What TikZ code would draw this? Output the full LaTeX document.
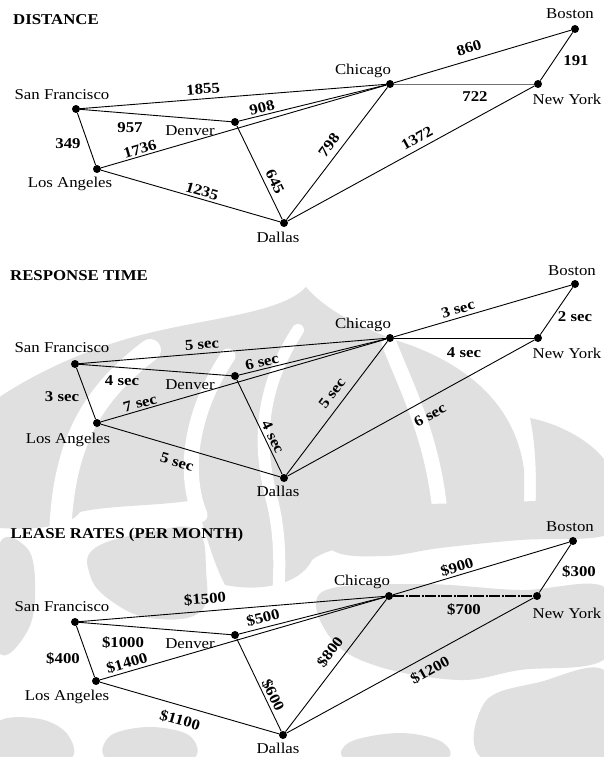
\documentclass[tikz,border=0pt]{standalone}
\usepackage{fontspec}
\setmainfont{Liberation Serif}[FakeStretch=1.12]
\begin{document}
\begin{tikzpicture}[x=1pt,y=-1pt,
  txt/.style={font=\fontsize{15}{18}\selectfont, inner sep=0pt},
  city/.style={txt},
  lbl/.style={txt, font=\fontsize{15}{18}\selectfont\bfseries},
  ttl/.style={txt, font=\fontsize{15}{18}\selectfont\bfseries},
  dot/.style={circle, fill=black, inner sep=0pt, minimum size=8pt},
  link/.style={line width=0.9pt},
  thinlink/.style={line width=0.5pt, black!55},
  dashlink/.style={line width=1.2pt, dash pattern=on 11pt off 1.5pt on 2pt off 1.5pt},
  gap/.style={white, line width=#1, line cap=round},
]
\colorlet{emblem}{black!12}
\useasboundingbox (0,0) rectangle (604,757);
\fill[white] (0,0) rectangle (604,757);

% faint emblem in the background
\begin{scope}
  \clip (0,280) rectangle (604,757);
  % dome and the bands flowing down from it
  \fill[emblem] (306,287) .. controls (280,315) and (200,318) .. (130,338)
     .. controls (70,355) and (25,380) .. (-2,398)
     -- (-2,528) .. controls (35,530) and (70,527) .. (80,512)
     .. controls (110,505) and (160,506) .. (195,500)
     .. controls (205,530) and (212,560) .. (225,585)
     .. controls (260,592) and (300,585) .. (312,560)
     .. controls (330,545) and (380,540) .. (440,540)
     .. controls (480,540) and (515,540) .. (524,530)
     -- (524,470) .. controls (515,400) and (460,360) .. (395,340)
     .. controls (370,330) and (330,315) .. (306,287) -- cycle;
  \draw[gap=22pt] (150,350) .. controls (95,392) and (62,440) .. (60,540);
  \draw[gap=15pt] (228,356) .. controls (192,410) and (182,470) .. (200,515);
  \draw[gap=12pt] (298,330) .. controls (262,385) and (256,440) .. (272,500)
     .. controls (282,540) and (280,580) .. (276,620);
  \draw[gap=15pt] (389,343) .. controls (408,392) and (440,450) .. (442,545);
  \fill[emblem] (530,418) .. controls (565,425) and (595,445) .. (606,462)
     -- (606,530) -- (534,530) .. controls (537,495) and (537,450) .. (530,418) -- cycle;
  % curls and wings further down
  \fill[emblem] plot[smooth cycle, tension=0.7] coordinates
     {(-2,548) (25,546) (35,580) (28,630) (-2,650)};
  \fill[emblem] plot[smooth cycle, tension=0.7] coordinates
     {(95,548) (150,532) (196,530) (206,570) (200,612) (150,618) (110,600) (90,575)};
  \fill[emblem] plot[smooth cycle, tension=0.6] coordinates
     {(312,508) (380,506) (470,503) (606,503) (606,535) (520,540) (440,548) (385,556) (332,550)};
  \fill[emblem] plot[smooth cycle, tension=0.6] coordinates
     {(322,592) (420,584) (520,590) (606,588) (606,658) (520,670) (460,680) (380,667) (332,640)};
  \fill[emblem] plot[smooth cycle, tension=0.6] coordinates
     {(485,702) (540,682) (606,672) (606,760) (485,760)};
  \fill[emblem] plot[smooth cycle, tension=0.6] coordinates
     {(350,742) (400,733) (442,742) (442,760) (350,760)};
  \fill[emblem] plot[smooth cycle, tension=0.6] coordinates
     {(-2,722) (40,719) (68,735) (68,760) (-2,760)};
  \fill[emblem] plot[smooth cycle, tension=0.6] coordinates
     {(110,736) (150,727) (190,736) (190,760) (110,760)};
\end{scope}

% ---------------- DISTANCE ----------------
\node[ttl] (t1) at (56,20) {DISTANCE};
\node[dot] (sf1) at (76,109) {};
\node[dot] (la1) at (97,169) {};
\node[dot] (den1) at (235,122) {};
\node[dot] (dal1) at (284,223) {};
\node[dot] (chi1) at (390,84) {};
\node[dot] (ny1) at (538,84) {};
\node[dot] (bos1) at (575,29) {};
\draw[link] (sf1) -- (chi1);
\draw[link] (sf1) -- (den1);
\draw[link] (den1) -- (chi1);
\draw[link] (la1) -- (chi1);
\draw[link] (sf1) -- (la1);
\draw[link] (la1) -- (dal1);
\draw[link] (den1) -- (dal1);
\draw[link] (dal1) -- (chi1);
\draw[link] (dal1) -- (ny1);
\draw[thinlink] (chi1) -- (ny1);
\draw[link] (chi1) -- (bos1);
\draw[link] (bos1) -- (ny1);
\node[city] (sf1n) at (62,95) {San Francisco};
\node[city] (la1n) at (70,184) {Los Angeles};
\node[city] (den1n) at (190,131) {Denver};
\node[city] (dal1n) at (278,237) {Dallas};
\node[city] (chi1n) at (363,71) {Chicago};
\node[city] (ny1n) at (567,99) {New York};
\node[city] (bos1n) at (570,14) {Boston};
\node[lbl, rotate=4.5] (d1) at (203,89) {1855};
\node[lbl, rotate=14] (d2) at (262,108) {908};
\node[lbl] (d3) at (130,128) {957};
\node[lbl] (d4) at (68,144) {349};
\node[lbl, rotate=16] (d5) at (140,149) {1736};
\node[lbl, rotate=-16] (d6) at (202,191) {1235};
\node[lbl, rotate=-64] (d7) at (275,182) {645};
\node[lbl, rotate=53] (d8) at (329,145) {798};
\node[lbl, rotate=29] (d9) at (417,138) {1372};
\node[lbl] (d10) at (475,97) {722};
\node[lbl, rotate=16.6] (d11) at (469,48) {860};
\node[lbl] (d12) at (576,61) {191};

% ---------------- RESPONSE TIME ----------------
\node[ttl] (t2) at (79,276) {RESPONSE TIME};
\node[dot] (sf2) at (75,364) {};
\node[dot] (la2) at (97,423) {};
\node[dot] (den2) at (235,376) {};
\node[dot] (dal2) at (284,478) {};
\node[dot] (chi2) at (390,338) {};
\node[dot] (ny2) at (538,338) {};
\node[dot] (bos2) at (575,284) {};
\draw[link] (sf2) -- (chi2);
\draw[link] (sf2) -- (den2);
\draw[link] (den2) -- (chi2);
\draw[link] (la2) -- (chi2);
\draw[link] (sf2) -- (la2);
\draw[link] (la2) -- (dal2);
\draw[link] (den2) -- (dal2);
\draw[link] (dal2) -- (chi2);
\draw[link] (dal2) -- (ny2);
\draw[link] (chi2) -- (ny2);
\draw[link] (chi2) -- (bos2);
\draw[link] (bos2) -- (ny2);
\node[city] (sf2n) at (62,348) {San Francisco};
\node[city] (la2n) at (68,440) {Los Angeles};
\node[city] (den2n) at (190,385) {Denver};
\node[city] (dal2n) at (278,491) {Dallas};
\node[city] (chi2n) at (363,325) {Chicago};
\node[city] (ny2n) at (567,353) {New York};
\node[city] (bos2n) at (572,271) {Boston};
\node[lbl, rotate=4.5] (r1) at (202,344) {5 sec};
\node[lbl, rotate=14] (r2) at (262,362) {6 sec};
\node[lbl] (r3) at (122,381) {4 sec};
\node[lbl] (r4) at (62,397) {3 sec};
\node[lbl, rotate=16] (r5) at (140,403) {7 sec};
\node[lbl, rotate=-16] (r6) at (177,462) {5 sec};
\node[lbl, rotate=-64] (r7) at (273,437) {4 sec};
\node[lbl, rotate=53] (r8) at (332,393) {5 sec};
\node[lbl, rotate=29] (r9) at (430,415) {6 sec};
\node[lbl] (r10) at (464,353) {4 sec};
\node[lbl, rotate=16.6] (r11) at (458,309) {3 sec};
\node[lbl] (r12) at (575,317) {2 sec};

% ---------------- LEASE RATES ----------------
\node[ttl] (t3) at (127,535) {LEASE RATES (PER MONTH)};
\node[dot] (sf3) at (75,622) {};
\node[dot] (la3) at (96,681) {};
\node[dot] (den3) at (235,635) {};
\node[dot] (dal3) at (283,735) {};
\node[dot] (chi3) at (389,596) {};
\node[dot] (ny3) at (537,596) {};
\node[dot] (bos3) at (573,541) {};
\draw[link] (sf3) -- (chi3);
\draw[link] (sf3) -- (den3);
\draw[link] (den3) -- (chi3);
\draw[link] (la3) -- (chi3);
\draw[link] (sf3) -- (la3);
\draw[link] (la3) -- (dal3);
\draw[link] (den3) -- (dal3);
\draw[link] (dal3) -- (chi3);
\draw[link] (dal3) -- (ny3);
\draw[dashlink] (chi3) -- (ny3);
\draw[link] (chi3) -- (bos3);
\draw[link] (bos3) -- (ny3);
\node[city] (sf3n) at (62,607) {San Francisco};
\node[city] (la3n) at (67,697) {Los Angeles};
\node[city] (den3n) at (190,644) {Denver};
\node[city] (dal3n) at (278,748) {Dallas};
\node[city] (chi3n) at (362,582) {Chicago};
\node[city] (ny3n) at (567,613) {New York};
\node[city] (bos3n) at (570,527) {Boston};
\node[lbl, rotate=4.5] (c1) at (205,599) {\$1500};
\node[lbl, rotate=14] (c2) at (263,618) {\$500};
\node[lbl] (c3) at (123,643) {\$1000};
\node[lbl] (c4) at (63,659) {\$400};
\node[lbl, rotate=16] (c5) at (127,663) {\$1400};
\node[lbl, rotate=-16] (c6) at (180,720) {\$1100};
\node[lbl, rotate=-64] (c7) at (273,695) {\$600};
\node[lbl, rotate=53] (c8) at (330,652) {\$800};
\node[lbl, rotate=29] (c9) at (430,670) {\$1200};
\node[lbl] (c10) at (464,610) {\$700};
\node[lbl, rotate=16.6] (c11) at (457,567) {\$900};
\node[lbl] (c12) at (579,572) {\$300};
\end{tikzpicture}
\end{document}
